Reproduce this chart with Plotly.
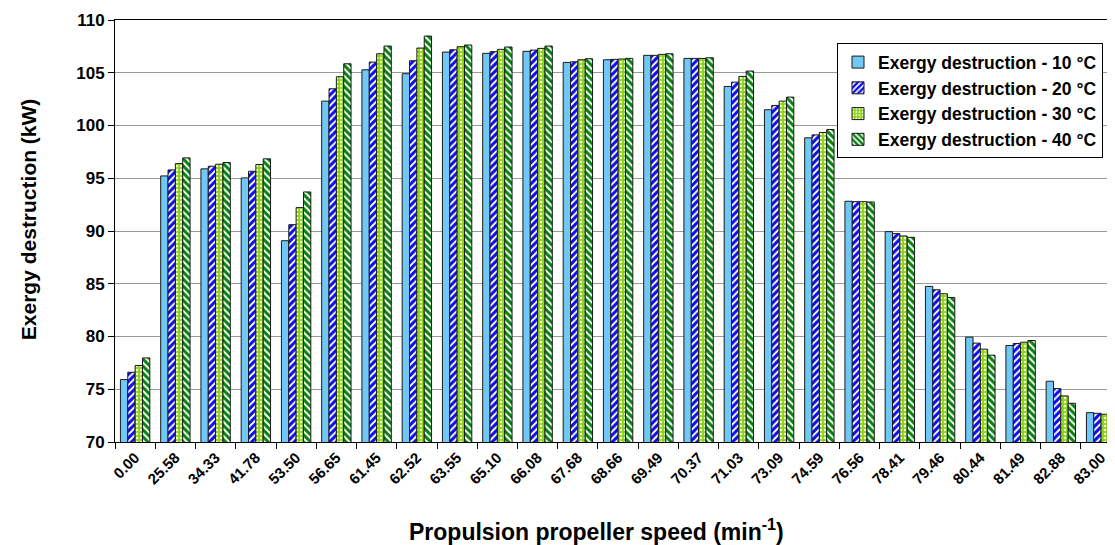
import plotly.graph_objects as go

categories = ["0.00", "25.58", "34.33", "41.78", "53.50", "56.65", "61.45", "62.52",
              "63.55", "65.10", "66.08", "67.68", "68.66", "69.49", "70.37", "71.03",
              "73.09", "74.59", "76.56", "78.41", "79.46", "80.44", "81.49", "82.88", "83.00"]

ed_10 = [75.92, 95.22, 95.89, 95.03, 89.08, 102.31, 105.28, 104.91, 106.96, 106.84,
         107.03, 105.98, 106.23, 106.65, 106.36, 103.70, 101.49, 98.83, 92.82, 89.94,
         84.75, 79.94, 79.15, 75.76, 72.78]
ed_20 = [76.61, 95.79, 96.14, 95.66, 90.60, 103.48, 106.01, 106.14, 107.18, 107.00,
         107.15, 106.04, 106.27, 106.65, 106.36, 104.11, 101.90, 99.11, 92.78, 89.75,
         84.43, 79.37, 79.34, 75.06, 72.72]
ed_30 = [77.25, 96.39, 96.33, 96.30, 92.22, 104.62, 106.80, 107.34, 107.47, 107.22,
         107.31, 106.23, 106.30, 106.74, 106.36, 104.65, 102.31, 99.34, 92.78, 89.53,
         84.05, 78.80, 79.46, 74.37, 72.63]
ed_40 = [77.97, 96.93, 96.49, 96.84, 93.70, 105.85, 107.53, 108.48, 107.63, 107.44,
         107.53, 106.33, 106.36, 106.80, 106.42, 105.16, 102.69, 99.62, 92.75, 89.40,
         83.70, 78.23, 79.62, 73.67, 72.56]

series_names = ["Exergy destruction - 10 °C", "Exergy destruction - 20 °C",
                "Exergy destruction - 30 °C", "Exergy destruction - 40 °C"]

FONT = "Liberation Sans, Arial, sans-serif"
outline = dict(color="#1a1a1a", width=1)

fig = go.Figure()
fig.add_trace(go.Bar(x=categories, y=ed_10, name=series_names[0],
                     marker=dict(color="#70c8f6", line=outline)))
fig.add_trace(go.Bar(x=categories, y=ed_20, name=series_names[1],
                     marker=dict(color="#1010f0", line=outline,
                                 pattern=dict(shape="/", fgcolor="#0c0cee", bgcolor="white",
                                              fgopacity=1, size=5, solidity=0.6))))
fig.add_trace(go.Bar(x=categories, y=ed_30, name=series_names[2],
                     marker=dict(color="#96d62a", line=outline,
                                 pattern=dict(shape=".", fgcolor="#f0ffd8", bgcolor="#8cd218",
                                              fgopacity=1, size=4, solidity=0.3))))
fig.add_trace(go.Bar(x=categories, y=ed_40, name=series_names[3],
                     marker=dict(color="#0a8a12", line=outline,
                                 pattern=dict(shape="\\", fgcolor="#06820e", bgcolor="white",
                                              fgopacity=1, size=5, solidity=0.6))))

fig.update_layout(
    width=1107, height=537,
    margin=dict(l=107, r=0, t=12, b=103, autoexpand=False),
    paper_bgcolor="white", plot_bgcolor="white",
    barmode="group", bargap=0.27, bargroupgap=0,
    font=dict(family=FONT, color="black"),
    legend=dict(x=0.988, xanchor="right", y=0.945, yanchor="top",
                bgcolor="white", bordercolor="black", borderwidth=1,
                font=dict(family=FONT, size=17.5, weight="bold", color="black"),
                itemwidth=30, tracegroupgap=0),
    xaxis=dict(type="category", range=[-0.5, 24.345], automargin=False,
               showline=True, linecolor="black", linewidth=1, mirror=True,
               ticks="outside", tickson="boundaries", ticklen=6, tickcolor="black",
               tickangle=-45, showgrid=False,
               tickfont=dict(family=FONT, size=15, weight="bold", color="black")),
    yaxis=dict(range=[70, 110], dtick=5, tick0=70, automargin=False,
               showline=True, linecolor="black", linewidth=1, mirror=False,
               ticks="outside", ticklen=6, tickcolor="black",
               showgrid=True, gridcolor="#9a9a9a", gridwidth=1, zeroline=False,
               tickfont=dict(family=FONT, size=17, weight="bold", color="black")),
    annotations=[
        dict(text="Propulsion propeller speed (min<sup>-1</sup>)", xref="paper", yref="paper",
             x=0.481, y=-0.2085, xanchor="center", yanchor="middle", showarrow=False,
             font=dict(family=FONT, size=23, weight="bold", color="black")),
        dict(text="Exergy destruction (kW)", xref="paper", yref="paper",
             x=-0.087, y=0.528, xanchor="center", yanchor="middle", showarrow=False,
             textangle=-90,
             font=dict(family=FONT, size=21, weight="bold", color="black")),
    ],
)

fig.write_html("out.html")
